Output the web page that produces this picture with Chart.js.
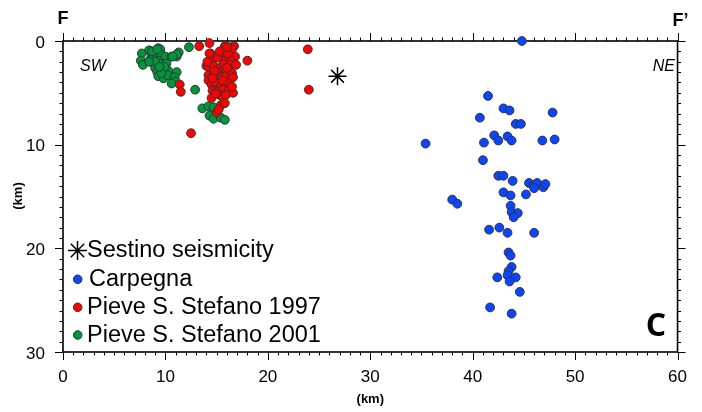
<!DOCTYPE html>
<html>
<head>
<meta charset="utf-8">
<title>Cross section F-F'</title>
<script src="https://cdn.jsdelivr.net/npm/chart.js@4.4.1/dist/chart.umd.min.js"></script>
<style>
  html, body { margin: 0; padding: 0; background: #fff; }
  #wrap { width: 702px; height: 412px; position: relative; }
</style>
</head>
<body>
<div id="wrap"><canvas id="chart_section_F"></canvas></div>
<script>
// distance along profile (km), depth (km)
var sestino = [[26.8, 3.4]];

var carpegna = [
  [44.8, 0.0], [41.5, 5.3], [43.0, 6.5], [43.6, 6.7], [40.7, 7.4], [47.8, 6.9],
  [44.2, 8.0], [44.7, 8.0], [42.1, 9.1], [42.5, 9.6], [43.4, 9.2], [43.8, 9.6],
  [46.8, 9.6], [48.0, 9.5], [35.4, 9.9], [41.1, 9.8], [41.0, 11.5], [42.5, 13.0],
  [43.0, 13.0], [43.9, 13.5], [45.5, 13.7], [46.0, 13.9], [46.3, 13.7], [46.0, 14.2],
  [46.9, 14.1], [47.1, 13.8], [43.0, 14.6], [43.7, 14.9], [45.2, 14.8], [38.0, 15.3],
  [38.5, 15.7], [43.7, 15.9], [43.8, 16.5], [44.4, 16.6], [44.0, 17.0], [41.6, 18.2],
  [42.6, 18.0], [43.4, 18.5], [46.0, 18.5], [43.5, 20.4], [43.7, 20.7], [43.8, 21.8],
  [43.5, 22.2], [43.4, 22.6], [42.4, 22.8], [44.2, 22.8], [43.6, 23.2], [44.6, 24.2],
  [41.7, 25.7], [43.8, 26.3]
];

var pieve1997 = [
  [13.3, 0.5], [14.3, 0.2], [15.8, 0.5], [16.2, 0.6], [16.7, 0.5], [16.5, 0.8],
  [23.9, 0.8], [24.0, 4.7], [18.0, 1.9], [14.4, 1.2], [14.7, 1.7], [15.5, 1.3],
  [15.9, 1.5], [16.8, 1.5], [15.7, 1.9], [16.4, 1.9], [14.0, 2.4], [14.2, 2.5],
  [14.7, 2.4], [15.3, 2.6], [15.7, 2.2], [16.3, 2.3], [16.9, 2.3], [15.0, 3.0],
  [15.4, 3.0], [15.9, 2.9], [16.3, 3.0], [14.2, 3.3], [14.7, 3.3], [15.3, 3.4],
  [15.5, 3.5], [15.9, 3.4], [16.5, 3.1], [16.6, 3.5], [14.2, 3.8], [14.5, 4.2],
  [15.0, 4.1], [15.7, 4.1], [16.1, 4.1], [15.4, 4.4], [14.6, 4.8], [15.0, 4.8],
  [15.3, 4.8], [15.7, 4.7], [16.2, 4.7], [16.6, 5.0], [15.3, 5.2], [15.6, 5.4],
  [15.9, 5.2], [14.5, 5.5], [15.4, 6.2], [15.0, 6.9], [15.2, 6.6], [12.5, 8.9],
  [11.4, 4.2], [11.5, 4.9], [14.1, 2.0], [15.1, 1.6], [16.0, 2.6], [14.8, 2.9],
  [15.6, 3.8], [16.5, 4.4], [14.9, 5.1], [15.3, 1.0], [16.1, 1.2], [14.6, 3.6],
  [15.8, 6.0], [14.3, 1.2], [16.0, 0.6]
];

var pieve2001 = [
  [7.7, 1.2], [8.4, 0.9], [8.7, 1.3], [9.3, 0.7], [9.5, 0.8], [7.6, 1.9],
  [7.8, 2.3], [8.5, 1.8], [8.8, 1.6], [9.2, 1.4], [9.6, 1.3], [10.0, 1.5],
  [10.6, 1.5], [11.1, 1.5], [11.3, 1.1], [11.1, 1.3], [12.3, 0.6], [8.8, 2.1],
  [9.3, 1.9], [9.7, 2.2], [10.1, 2.2], [9.0, 2.6], [9.5, 2.8], [9.2, 3.0],
  [10.0, 2.8], [10.3, 2.9], [9.3, 3.4], [9.8, 3.6], [10.2, 3.3], [11.1, 3.0],
  [10.9, 3.5], [11.0, 3.9], [10.6, 4.1], [12.9, 4.7], [13.6, 6.5], [14.2, 6.3],
  [14.7, 6.4], [14.3, 7.2], [14.7, 7.5], [15.4, 7.4], [15.8, 7.6], [9.0, 2.0],
  [8.7, 1.0], [9.9, 2.5], [9.6, 3.1], [8.4, 2.0], [9.4, 2.5], [10.7, 1.5],
  [9.2, 0.8]
];

var xTicksMax = 60;
var yTicksMax = 30;

function toPoints(list) {
  return list.map(function (p) { return { x: p[0], y: p[1] }; });
}

var FONT = "'Liberation Sans', Arial, sans-serif";

var sectionPlugin = {
  id: 'sectionFrame',
  beforeDatasetsDraw: function (chart) {
    var ctx = chart.ctx;
    var a = chart.chartArea;
    var xs = chart.scales.x, ys = chart.scales.y;
    ctx.save();
    ctx.strokeStyle = '#000';
    ctx.lineWidth = 1;
    var v, p, len;
    for (v = xs.min; v <= xs.max; v++) {
      p = Math.round(xs.getPixelForValue(v)) + 0.5;
      len = v % 10 === 0 ? 8 : 3.5;
      ctx.beginPath();
      ctx.moveTo(p, a.bottom); ctx.lineTo(p, a.bottom + len);
      ctx.moveTo(p, a.top); ctx.lineTo(p, a.top - len);
      ctx.stroke();
    }
    for (v = ys.min; v <= ys.max; v++) {
      p = Math.round(ys.getPixelForValue(v)) + 0.5;
      len = v % 10 === 0 ? 8 : 3.5;
      ctx.beginPath();
      ctx.moveTo(a.left, p); ctx.lineTo(a.left - len, p);
      ctx.moveTo(a.right, p); ctx.lineTo(a.right + len, p);
      ctx.stroke();
    }
    ctx.lineWidth = 1.6;
    ctx.strokeRect(a.left, a.top, a.right - a.left, a.bottom - a.top);

    // annotations
    ctx.fillStyle = '#000';
    ctx.textBaseline = 'alphabetic';
    ctx.font = 'bold 18px ' + FONT;
    ctx.textAlign = 'center';
    ctx.fillText('F', a.left, 24);
    ctx.fillText('F\u2019', a.right + 3, 26);
    ctx.font = 'italic 16px ' + FONT;
    ctx.textAlign = 'left';
    ctx.fillText('SW', 80, 71);
    ctx.textAlign = 'right';
    ctx.fillText('NE', 675, 71);
    ctx.font = "bold 32px 'Open Sans', " + FONT;
    ctx.textAlign = 'center';
    ctx.fillText('C', 656, 336);

    // axis titles
    ctx.font = 'bold 13px ' + FONT;
    ctx.textBaseline = 'middle';
    ctx.fillText('(km)', (a.left + a.right) / 2, 399);
    ctx.translate(18, 196);
    ctx.rotate(-Math.PI / 2);
    ctx.fillText('(km)', 0, 0);
    ctx.restore();
  },
  afterDraw: function (chart) {
    // legend inside the plot, lower left
    var ctx = chart.ctx;
    var rows = [250.5, 279.3, 307.3, 335];
    ctx.save();
    chart.data.datasets.forEach(function (ds, i) {
      var y = rows[i];
      if (ds.pointStyle === 'star') {
        ctx.strokeStyle = '#000';
        ctx.lineWidth = 1.5;
        Chart.helpers.drawPoint(ctx, {
          pointStyle: 'star', radius: 9.5, rotation: 0, borderWidth: 1.5
        }, 77.5, y);
      } else {
        ctx.beginPath();
        ctx.arc(77.7, y, 4.3, 0, Math.PI * 2);
        ctx.fillStyle = ds.backgroundColor;
        ctx.fill();
        ctx.strokeStyle = '#333';
        ctx.lineWidth = 1;
        ctx.stroke();
      }
      ctx.fillStyle = '#000';
      ctx.font = '23.5px ' + FONT;
      ctx.textAlign = 'left';
      ctx.textBaseline = 'middle';
      ctx.fillText(ds.label, i === 1 ? 89 : 87, y + 0.5);
    });
    ctx.restore();
  }
};

var chart_section_F = new Chart(document.getElementById('chart_section_F'), {
  type: 'scatter',
  data: {
    datasets: [
      {
        label: 'Sestino seismicity',
        data: toPoints(sestino),
        pointStyle: 'star',
        pointRadius: 9,
        borderColor: '#000',
        backgroundColor: '#000',
        borderWidth: 1.5,
        clip: false,
        order: 0
      },
      {
        label: 'Carpegna',
        data: toPoints(carpegna),
        pointRadius: 4.4,
        backgroundColor: '#0a45ff',
        borderColor: '#333',
        borderWidth: 1,
        clip: false,
        order: 1
      },
      {
        label: 'Pieve S. Stefano 1997',
        data: toPoints(pieve1997),
        pointRadius: 4.4,
        backgroundColor: '#ff0000',
        borderColor: '#333',
        borderWidth: 1,
        clip: false,
        order: 2
      },
      {
        label: 'Pieve S. Stefano 2001',
        data: toPoints(pieve2001),
        pointRadius: 4.4,
        backgroundColor: '#00963c',
        borderColor: '#333',
        borderWidth: 1,
        clip: false,
        order: 3
      }
    ]
  },
  options: {
    animation: false,
    responsive: true,
    maintainAspectRatio: false,
    devicePixelRatio: 1,
    layout: { padding: { left: 0, right: 15, top: 41, bottom: 0 } },
    plugins: {
      legend: { display: false },
      tooltip: { enabled: false }
    },
    scales: {
      x: {
        type: 'linear',
        min: 0,
        max: xTicksMax,
        grid: { display: false, drawTicks: false },
        border: { display: false },
        ticks: {
          stepSize: 10,
          padding: 15,
          color: '#000',
          font: { family: FONT, size: 17 }
        },
        afterFit: function (scale) { scale.height = 60; }
      },
      y: {
        type: 'linear',
        reverse: true,
        min: 0,
        max: yTicksMax,
        grid: { display: false, drawTicks: false },
        border: { display: false },
        ticks: {
          stepSize: 10,
          padding: 18,
          labelOffset: 2,
          color: '#000',
          font: { family: FONT, size: 17 }
        },
        afterFit: function (scale) { scale.width = 63; }
      }
    }
  },
  plugins: [sectionPlugin]
});
</script>
</body>
</html>
